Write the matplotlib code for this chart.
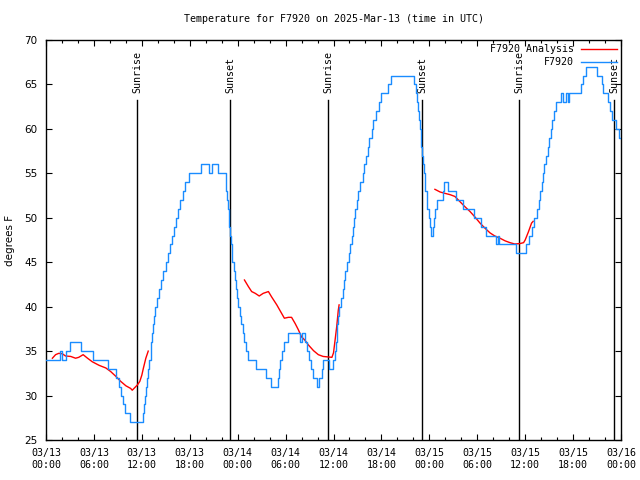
import matplotlib
matplotlib.use("Agg")
import matplotlib.pyplot as plt
import matplotlib.transforms as mtransforms

# hours since 03/13 00:00 UTC
blue_hours = [0.0, 1.75, 2.0, 2.45, 3.0, 4.4, 5.9, 7.8, 8.8, 9.1, 9.4, 9.6, 9.9, 10.5,
              12.1, 12.3, 12.45, 12.55, 12.65, 12.75, 12.95, 13.1, 13.2, 13.3, 13.4, 13.5,
              13.65, 13.85, 14.1, 14.35, 14.7, 15.05, 15.3, 15.55, 15.75, 16.0, 16.25, 16.5,
              16.8, 17.15, 17.4, 17.9, 19.4, 20.35, 20.8, 21.55, 22.5, 22.6, 22.7, 22.8,
              22.9, 22.95, 23.05, 23.15, 23.25, 23.35, 23.5, 23.65, 23.8, 23.95, 24.1, 24.25,
              24.45, 24.65, 24.85, 25.1, 25.35, 26.3, 27.5, 28.2, 29.0, 29.15, 29.3, 29.5,
              29.8, 30.3, 31.85, 32.1, 32.45, 32.7, 32.95, 33.2, 33.45, 33.9, 34.2, 34.5,
              34.65, 35.45, 35.9, 36.15, 36.3, 36.4, 36.5, 36.6, 36.75, 36.95, 37.15, 37.35,
              37.5, 37.7, 37.9, 38.1, 38.3, 38.45, 38.6, 38.75, 38.9, 39.05, 39.35, 39.65,
              39.85, 40.1, 40.3, 40.5, 40.8, 41.0, 41.3, 41.7, 42.0, 42.85, 43.2, 46.1,
              46.35, 46.5, 46.6, 46.7, 46.8, 46.9, 47.0, 47.1, 47.2, 47.3, 47.4, 47.5,
              47.65, 47.75, 47.9, 48.05, 48.25, 48.4, 48.55, 48.7, 48.95, 49.65, 49.8, 50.3,
              51.4, 52.2, 53.6, 54.45, 55.1, 56.3, 56.55, 56.75, 58.8, 60.1, 60.5, 60.8,
              61.1, 61.45, 61.7, 61.9, 62.1, 62.25, 62.4, 62.6, 62.8, 63.0, 63.2, 63.35,
              63.6, 63.8, 64.5, 64.75, 65.1, 65.35, 65.55, 67.0, 67.2, 67.6, 69.0, 69.6,
              69.8, 70.4, 70.6, 70.9, 71.4, 71.7, 72.0]
blue_temps = [34, 35, 34, 35, 36, 35, 34, 33, 32, 31, 30, 29, 28, 27,
              28, 29, 30, 31, 32, 33, 34, 35, 36, 37, 38, 39,
              40, 41, 42, 43, 44, 45, 46, 47, 48, 49, 50, 51,
              52, 53, 54, 55, 56, 55, 56, 55, 54, 53, 52, 51,
              50, 49, 48, 47, 46, 45, 44, 43, 42, 41, 40, 39,
              38, 37, 36, 35, 34, 33, 32, 31, 32, 33, 34, 35,
              36, 37, 36, 37, 36, 35, 34, 33, 32, 31, 32, 33,
              34, 33, 34, 35, 36, 37, 38, 39, 40, 41, 42, 43,
              44, 45, 46, 47, 48, 49, 50, 51, 52, 53, 54, 55,
              56, 57, 58, 59, 60, 61, 62, 63, 64, 65, 66, 65,
              64, 63, 62, 61, 60, 59, 58, 57, 56, 55, 54, 53,
              52, 51, 50, 49, 48, 49, 50, 51, 52, 53, 54, 53,
              52, 51, 50, 49, 48, 47, 48, 47, 46, 47, 48, 49,
              50, 51, 52, 53, 54, 55, 56, 57, 58, 59, 60, 61,
              62, 63, 64, 63, 64, 63, 64, 65, 66, 67, 66, 65,
              64, 63, 62, 61, 60, 59, 59]

red1_hours = [0.8, 1.2, 1.6, 2.05, 2.45, 3.1, 3.7, 4.1, 4.65, 5.2, 5.8, 6.65, 7.5, 8.1,
              8.7, 9.35, 10.0, 10.6, 10.8, 11.45, 11.75, 12.0, 12.2, 12.5, 12.8]
red1_temps = [34.2, 34.6, 34.75, 34.7, 34.45, 34.4, 34.2, 34.3, 34.6, 34.2, 33.8, 33.4,
              33.1, 32.7, 32.2, 31.6, 31.1, 30.8, 30.6, 31.2, 31.6, 32.3, 33.1, 34.2, 35.0]
red2_hours = [24.85, 25.35, 25.75, 26.2, 26.7, 27.2, 27.85, 28.25, 28.9, 29.5, 29.85, 30.35,
              30.75, 31.2, 31.6, 32.0, 32.4, 32.85, 33.5, 34.1, 34.7, 35.8, 36.0, 36.2,
              36.4, 36.6, 36.7]
red2_temps = [43.0, 42.25, 41.7, 41.5, 41.2, 41.5, 41.7, 41.1, 40.2, 39.25, 38.7, 38.8,
              38.8, 38.1, 37.4, 36.6, 36.25, 35.7, 35.05, 34.6, 34.4, 34.3, 34.8, 36.25,
              37.75, 39.6, 40.2]
red3_hours = [48.7, 49.35, 49.95, 50.6, 51.2, 51.85, 52.45, 53.1, 53.7, 54.35, 55.0, 55.6,
              56.2, 56.85, 57.5, 58.1, 58.7, 59.35, 59.8, 60.0, 60.4, 60.8, 61.0]
red3_temps = [53.2, 52.9, 52.75, 52.6, 52.4, 51.8, 51.25, 50.7, 50.1, 49.4, 48.8, 48.3,
              47.95, 47.7, 47.4, 47.2, 47.05, 47.1, 47.2, 47.5, 48.4, 49.4, 49.6]

sun_hours = [11.44, 23.08, 35.35, 47.1, 59.27, 71.17]
sun_labels = ["Sunrise", "Sunset", "Sunrise", "Sunset", "Sunrise", "Sunset"]

xtick_hours = [0, 6, 12, 18, 24, 30, 36, 42, 48, 54, 60, 66, 72]
xtick_labels = ["03/13\n00:00", "03/13\n06:00", "03/13\n12:00", "03/13\n18:00",
                "03/14\n00:00", "03/14\n06:00", "03/14\n12:00", "03/14\n18:00",
                "03/15\n00:00", "03/15\n06:00", "03/15\n12:00", "03/15\n18:00",
                "03/16\n00:00"]
ytick_vals = [25, 30, 35, 40, 45, 50, 55, 60, 65, 70]

mono = "DejaVu Sans Mono"
fs = 7.2

fig = plt.figure(figsize=(6.4, 4.8), dpi=100)
ax = fig.add_axes([46 / 640, 40 / 480, 575 / 640, 400 / 480])

trans = mtransforms.blended_transform_factory(ax.transData, ax.transAxes)
for h, lab in zip(sun_hours, sun_labels):
    ax.plot([h, h], [0, 0.85], color="black", lw=1.0, transform=trans, zorder=1)
    ax.text(h, 0.868, lab, rotation=90, ha="center", va="bottom", transform=trans,
            family=mono, fontsize=fs)

ax.plot(red1_hours, red1_temps, color="#ff0000", lw=1.0, zorder=2, label="F7920 Analysis")
ax.plot(red2_hours, red2_temps, color="#ff0000", lw=1.0, zorder=2)
ax.plot(red3_hours, red3_temps, color="#ff0000", lw=1.0, zorder=2)
ax.plot(blue_hours, blue_temps, color="#1a8cff", lw=1.0, drawstyle="steps-post",
        zorder=3, label="F7920")

ax.set_xlim(0, 72)
ax.set_ylim(25, 70)
ax.set_xticks(xtick_hours)
ax.set_xticklabels(xtick_labels, family=mono, fontsize=fs)
ax.set_xticks(range(0, 73, 2), minor=True)
ax.set_yticks(ytick_vals)
ax.set_yticklabels([str(v) for v in ytick_vals], family="DejaVu Sans", fontsize=7.5)
ax.tick_params(which="both", direction="in", top=True, right=True, width=0.8)
ax.tick_params(which="major", length=4.5)
ax.tick_params(which="minor", length=2.5)
ax.tick_params(axis="x", which="major", pad=6)
ax.tick_params(axis="y", which="major", pad=6)
for s in ax.spines.values():
    s.set_linewidth(1.0)

ax.legend(loc="upper right", frameon=False, markerfirst=False, prop={"family": mono, "size": fs},
          handlelength=3.6, handletextpad=0.7, borderpad=0.0, borderaxespad=0.45,
          labelspacing=0.3)

fig.text(0.5 * (46 + 621) / 640, 1 - 19 / 480, "Temperature for F7920 on 2025-Mar-13 (time in UTC)",
         ha="center", va="center", family=mono, fontsize=fs)
fig.text(10 / 640, 0.5, "degrees F", rotation=90, ha="center", va="center",
         family="DejaVu Sans", fontsize=7.5)

fig.savefig("out.png", dpi=100)
